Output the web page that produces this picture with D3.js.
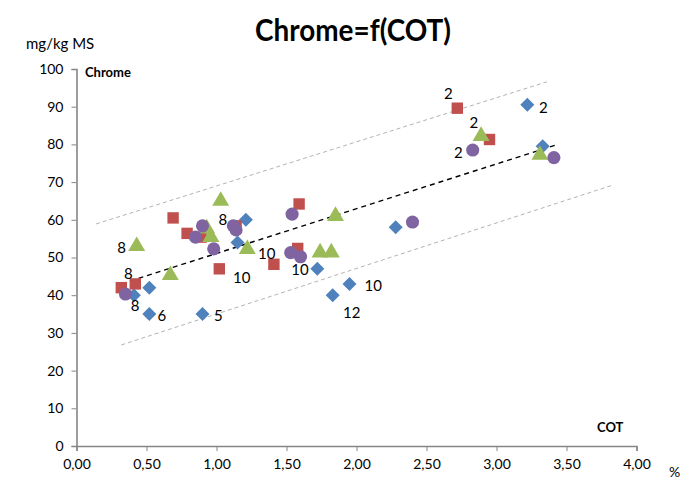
<!DOCTYPE html>
<html><head><meta charset="utf-8">
<script src="https://cdn.jsdelivr.net/npm/d3@7"></script>
<style>body{margin:0;background:#fff}svg{display:block}</style>
</head><body><svg id="c" width="698" height="484"></svg>
<script>
const xTicks = [0,0.5,1,1.5,2,2.5,3,3.5,4];
const yTicks = [0,10,20,30,40,50,60,70,80,90,100];

const blueX = [0.41,0.52,0.52,0.90,1.15,1.21,1.72,1.83,1.95,2.28,3.22,3.33];
const blueY = [40,42,35,35,54,60,47,40,43,58,90.5,79.5];
const redX = [0.32,0.42,0.69,0.79,0.89,1.02,1.14,1.41,1.58,1.59,2.72,2.95];
const redY = [42,43,60.5,56.4,55.4,47,58.4,48.2,52.4,64.2,89.6,81.3];
const greenX = [0.43,0.67,0.93,0.96,1.03,1.22,1.74,1.82,1.85,2.89,3.31];
const greenY = [53,45.3,57.7,55.4,65,52.2,51.3,51.3,61,82.2,77.2];
const purpleX = [0.35,0.85,0.90,0.98,1.12,1.14,1.53,1.54,1.60,2.40,2.83,3.41];
const purpleY = [40.3,55.4,58.4,52.3,58.4,57.3,51.3,61.5,50.2,59.4,78.5,76.5];

const trendX = [0.32,3.42];
const trendY = [43,79.8];
const upperX = [0.14,3.36];
const upperY = [58.9,96.6];
const lowerX = [0.32,3.83];
const lowerY = [26.8,69.2];

const labelText = ["2","2","2","2","8","8","8","8","6","5","10","10","10","10","12"];
const labelX = [2.656,3.334,2.839,2.727,1.046,0.323,0.37,0.418,0.609,1.013,1.18,1.359,1.596,2.12,1.966];
const labelY = [93.6,90,86,78.1,60.2,52.7,46,37.4,34.7,34.7,44.9,51.1,47,42.7,35.6];

const font = "Lato, 'Liberation Sans', sans-serif";
const svg = d3.select("#c");
const x = d3.scaleLinear().domain([0,4]).range([76.5,636.5]);
const y = d3.scaleLinear().domain([0,100]).range([446,69]);
const axisCol = "#868686";

// axes
const gx = svg.append("g").attr("transform","translate(0,446)")
  .call(d3.axisBottom(x).tickValues(xTicks).tickSize(5).tickPadding(8)
    .tickFormat(d=>d3.format(".2f")(d).replace(".",",")));
const gy = svg.append("g").attr("transform","translate(76.5,0)")
  .call(d3.axisLeft(y).tickValues(yTicks).tickSize(5).tickPadding(8));
[gx,gy].forEach(g=>{
  g.select(".domain").attr("stroke",axisCol).attr("stroke-width",1.6);
  g.selectAll(".tick line").attr("stroke",axisCol).attr("stroke-width",1);
  g.selectAll("text").attr("fill","#000").style("font-family",font).style("font-size","14px");
});

// lines
function seg(xs,ys,col,dash,w){
  svg.append("line").attr("x1",x(xs[0])).attr("y1",y(ys[0])).attr("x2",x(xs[1])).attr("y2",y(ys[1]))
    .attr("stroke",col).attr("stroke-width",w).attr("stroke-dasharray",dash);
}
seg(upperX,upperY,"#b4b4b4","4,3",1);
seg(lowerX,lowerY,"#b4b4b4","4,3",1);
seg(trendX,trendY,"#000","5,4",1.4);

// points
function series(xs,ys,type,col,size){
  svg.append("g").selectAll("path").data(xs.map((v,i)=>[v,ys[i]])).join("path")
    .attr("transform",d=>`translate(${x(d[0])},${y(d[1])})`)
    .attr("d",d3.symbol().type(type).size(size))
    .attr("fill",col);
}
series(blueX,blueY,d3.symbolDiamond2 || d3.symbolDiamond,"#4F81BD",125);
series(redX,redY,d3.symbolSquare,"#C0504D",130);
series(greenX,greenY,d3.symbolTriangle,"#9BBB59",125);
series(purpleX,purpleY,d3.symbolCircle,"#8064A2",135);

// point labels
svg.append("g").selectAll("text").data(labelText).join("text")
  .attr("x",(d,i)=>x(labelX[i])).attr("y",(d,i)=>y(labelY[i]))
  .attr("text-anchor","middle").attr("dominant-baseline","central")
  .style("font-family",font).style("font-size","15px").text(d=>d);

// titles
svg.append("text").attr("x",255).attr("y",41)
  .attr("textLength",196).attr("lengthAdjust","spacingAndGlyphs")
  .style("font-family",font).style("font-size","31px").style("font-weight","bold").text("Chrome=f(COT)");
svg.append("text").attr("x",26).attr("y",49)
  .style("font-family",font).style("font-size","15px").text("mg/kg MS");
svg.append("text").attr("x",85).attr("y",77)
  .style("font-family",font).style("font-size","13px").style("font-weight","bold").text("Chrome");
svg.append("text").attr("x",597).attr("y",432)
  .style("font-family",font).style("font-size","13px").style("font-weight","bold").text("COT");
svg.append("text").attr("x",669).attr("y",477)
  .style("font-family",font).style("font-size","14px").text("%");
</script></body></html>
